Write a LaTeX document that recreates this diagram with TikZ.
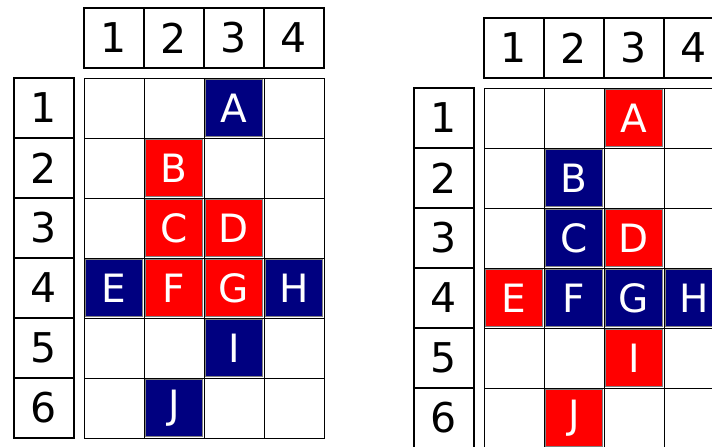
\documentclass[tikz,border=0pt]{standalone}
\usepackage{fontspec}
\setmainfont{DejaVu Sans}
\definecolor{navyc}{HTML}{000080}
\definecolor{redc}{HTML}{FF0000}
\begin{document}
\begin{tikzpicture}[x=1pt,y=-1pt,
  hdr/.style={draw=black,line width=2pt,minimum width=60pt,minimum height=60pt,inner sep=0pt,font=\fontsize{41}{41}\selectfont},
  cell/.style={draw=black,line width=1pt,minimum size=60pt,inner sep=0pt,fill=white},
  tile/.style={draw=gray,line width=1pt,minimum size=57pt,inner sep=0pt,text=white,font=\fontsize{39}{39}\selectfont}]
\useasboundingbox (0,0) rectangle (712,447);
\clip (0,0) rectangle (712,447);
\foreach \p/\dx/\dy in {L/0/0,R/400/10}{
  \begin{scope}[shift={(\dx,\dy)}]
    \foreach \j in {1,...,4}
      \node[hdr] (\p-c\j) at (54+60*\j,38) {\j};
    \foreach \i in {1,...,6}
      \node[hdr] (\p-r\i) at (44,48+60*\i) {\i};
    \foreach \i in {1,...,6}
      \foreach \j in {1,...,4}
        \node[cell] (\p-\i-\j) at (54+60*\j,48+60*\i) {};
  \end{scope}
}
\foreach \t/\r/\c/\s in {A/1/3/navyc,B/2/2/redc,C/3/2/redc,D/3/3/redc,E/4/1/navyc,F/4/2/redc,G/4/3/redc,H/4/4/navyc,I/5/3/navyc,J/6/2/navyc}
  \node[tile,fill=\s] (L-\t) at (L-\r-\c) {\t};
\foreach \t/\r/\c/\s in {A/1/3/redc,B/2/2/navyc,C/3/2/navyc,D/3/3/redc,E/4/1/redc,F/4/2/navyc,G/4/3/navyc,H/4/4/navyc,I/5/3/redc,J/6/2/redc}
  \node[tile,fill=\s] (R-\t) at (R-\r-\c) {\t};
\end{tikzpicture}
\end{document}
